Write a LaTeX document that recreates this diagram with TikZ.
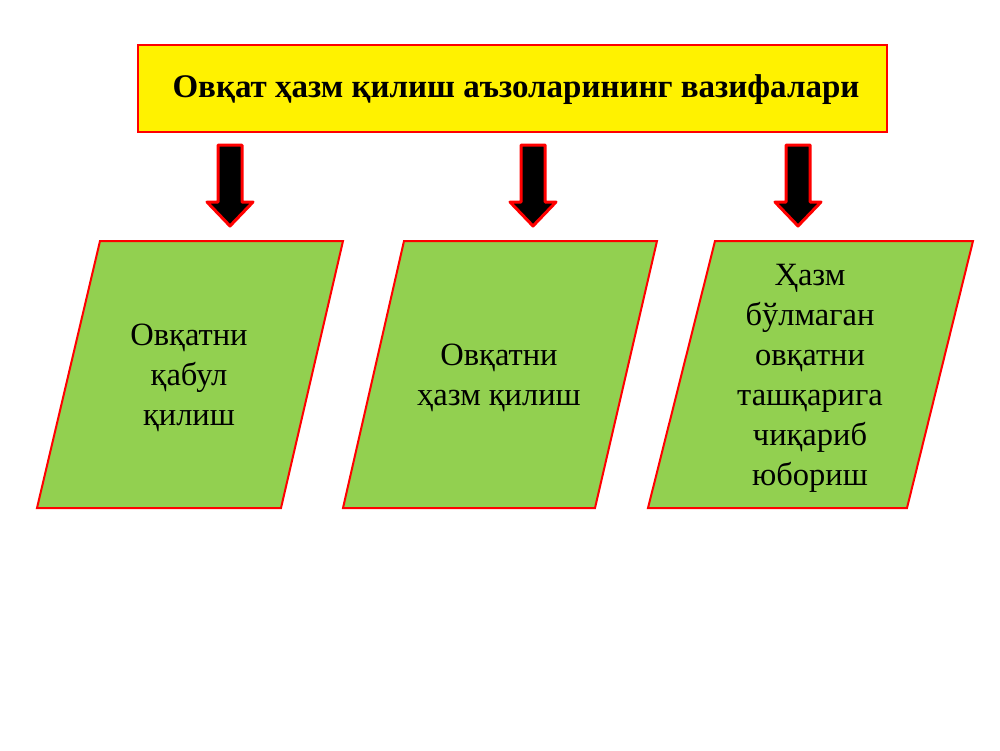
\documentclass[tikz,border=0pt]{standalone}
\usepackage{fontspec}
\setmainfont{Liberation Serif}
\begin{document}
\begin{tikzpicture}[x=1pt,y=-1pt,
  titlebox/.style={draw=red,line width=2.2pt,fill=yellow},
  parabox/.style={draw=red,line width=2pt,fill=paragreen},
  blockarrow/.style={draw=red,line width=3pt,fill=black,line join=round},
  bodytext/.style={align=center,font=\fontsize{32.5}{40}\selectfont,inner sep=0pt},
]
\useasboundingbox (0,0) rectangle (1000,750);
\definecolor{paragreen}{RGB}{146,208,80}
% title
\node[titlebox,minimum width=749pt,minimum height=87pt,anchor=north west,inner sep=0pt] (title) at (137,44) {};
\node[font=\bfseries\fontsize{33}{38}\selectfont,inner sep=0pt] (titletext) at (516,90) {Овқат ҳазм қилиш аъзоларининг вазифалари};
% parallelograms
\draw[parabox] (100,241) -- (343,241) -- (281,508) -- (37,508) -- cycle;
\draw[parabox] (404,241) -- (657,241) -- (595,508) -- (343,508) -- cycle;
\draw[parabox] (715,241) -- (973,241) -- (907,508) -- (648,508) -- cycle;
\node[bodytext] (t1) at (189,378) {Овқатни\\қабул\\қилиш};
\node[bodytext] (t2) at (499,378) {Овқатни\\ҳазм қилиш};
\node[bodytext] (t3) at (810,378) {Ҳазм\\бўлмаган\\овқатни\\ташқарига\\чиқариб\\юбориш};
% arrows
\foreach \n/\cx in {a1/230,a2/533,a3/798}{
  \draw[blockarrow] (\cx-12,145) -- (\cx+12,145) -- (\cx+12,202) -- (\cx+23,202) -- (\cx,226) -- (\cx-23,202) -- (\cx-12,202) -- cycle;
}
\end{tikzpicture}
\end{document}
